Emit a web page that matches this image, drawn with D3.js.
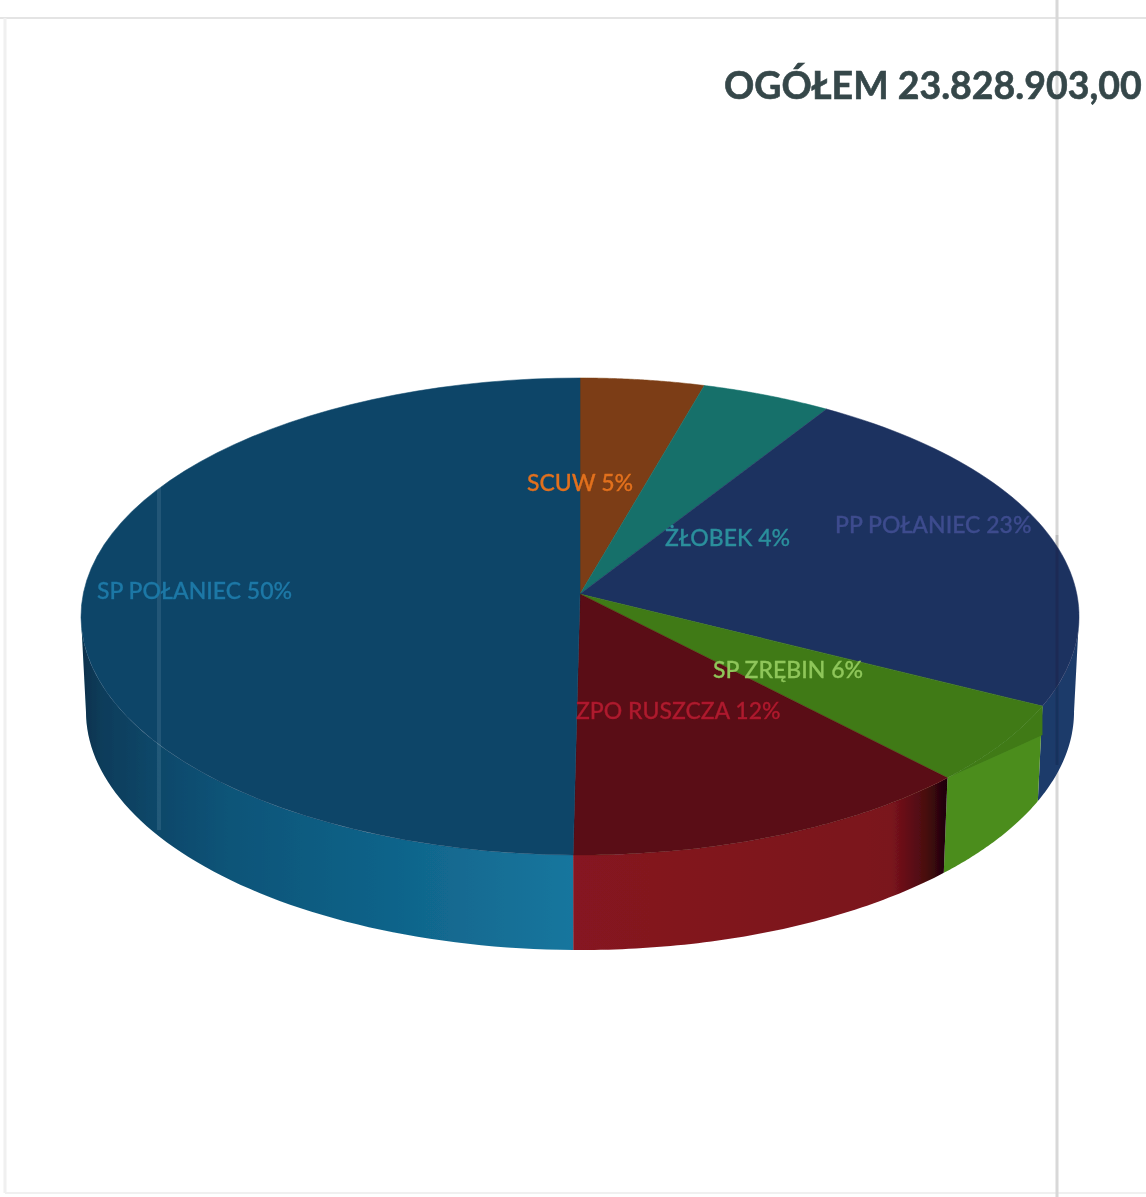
<!DOCTYPE html>
<html lang="pl">
<head>
<meta charset="utf-8">
<title>OGÓŁEM 23.828.903,00</title>
<script src="https://cdn.jsdelivr.net/npm/d3@7"></script>
<style>
  html, body { margin: 0; background: #fff; }
  svg { display: block; }
  text { font-family: Lato, "Open Sans", sans-serif; }
</style>
</head>
<body>
<div id="chart"></div>
<script>
// dane
const title = "OGÓŁEM 23.828.903,00";
const categories = ["SCUW", "ŻŁOBEK", "PP POŁANIEC", "SP ZRĘBIN", "ZPO RUSZCZA", "SP POŁANIEC"];
const percentLabels = [5, 4, 23, 6, 12, 50];
const shares = [4.4, 4.6, 23.5, 5.4, 12.3, 49.8];

// wygląd
const topColors = ["#7b3d12", "#13706b", "#1e3260", "#3f7a18", "#5a0a12", "#0a4568"];
const labelColors = ["#e2701f", "#2b8f9c", "#3d4c8e", "#8fc65a", "#ad1a2e", "#1f78a6"];
const wallStops = [
  [["0%", "#7b3d12"], ["100%", "#7b3d12"]],
  [["0%", "#13706b"], ["100%", "#13706b"]],
  [["0%", "#1d3a6a"], ["100%", "#1d3a6a"]],
  [["0%", "#4c8d1f"], ["100%", "#4c8d1f"]],
  [["0%", "#861620"], ["85%", "#7a131c"], ["94%", "#4a0a10"], ["100%", "#1c0306"]],
  [["0%", "#07304a"], ["4%", "#0a3c5a"], ["15%", "#0b4769"], ["30%", "#0e5478"], ["60%", "#0f6288"], ["100%", "#17769e"]]
];
const labelAt = [[527, 491], [665, 546], [835, 533], [713, 678], [576, 719], [97, 599]];

const W = 1146, H = 1197;
const cx = 580, apexY = 594;       // wierzchołek koła
const k = 0.0943, A = 496.8, B = 236.4; // perspektywa
const depth = 95;
const lip = 29;
// kąty skrajnych punktów elipsy: tylko między nimi widać ścianę
const rightEdge = Math.acos(-k), leftEdge = 2 * Math.PI - rightEdge;

const svg = d3.select("#chart").append("svg")
  .attr("width", W).attr("height", H)
  .attr("viewBox", [0, 0, W, H]);

const defs = svg.append("defs");
defs.append("filter").attr("id", "scan")
  .append("feGaussianBlur").attr("stdDeviation", 0.6);

// kąt (od góry, zgodnie z zegarem) -> punkt na elipsie
function project(a) {
  const x = Math.sin(a), y = -Math.cos(a), d = 1 - k * y;
  return [cx + A * x / d, apexY + B * y / d];
}
function projectLow(a) {
  const p = project(a);
  return [cx + (p[0] - cx) * 0.99, p[1] + depth];
}

const arcs = d3.pie().sort(null).value(d => d)(shares);
const line = d3.line();
const sample = (a0, a1) => d3.range(0, 61).map(i => a0 + (a1 - a0) * i / 60);

const page = svg.append("g").attr("filter", "url(#scan)");

// ślady skanu pod wykresem
page.append("line").attr("x1", 0).attr("x2", W).attr("y1", 18).attr("y2", 18)
  .attr("stroke", "#e4e4e4").attr("stroke-width", 2);
page.append("line").attr("x1", 5).attr("x2", 5).attr("y1", 18).attr("y2", 1193)
  .attr("stroke", "#f0f0f0").attr("stroke-width", 3);
page.append("line").attr("x1", 5).attr("x2", W).attr("y1", 1193).attr("y2", 1193)
  .attr("stroke", "#f0f0f0").attr("stroke-width", 2);
page.append("line").attr("x1", 1057).attr("x2", 1057).attr("y1", 0).attr("y2", H)
  .attr("stroke", "#d8d8d8").attr("stroke-width", 3);

page.append("text")
  .attr("x", 724).attr("y", 99)
  .attr("font-size", 37.5).attr("font-weight", 700)
  .attr("fill", "#36474a")
  .attr("stroke", "#36474a").attr("stroke-width", 0.6)
  .text(title);

// ściany boczne: od tyłu do przodu
const walls = page.append("g");
arcs.forEach((d, i) => {
  const a0 = Math.max(d.startAngle, rightEdge), a1 = Math.min(d.endAngle, leftEdge);
  if (a1 <= a0) return;
  const pts = sample(a0, a1);
  const top = pts.map(project), low = pts.map(projectLow).reverse();
  const gx = d3.extent(top.concat(low), p => p[0]);
  const grad = defs.append("linearGradient")
    .attr("id", "wall" + i)
    .attr("gradientUnits", "userSpaceOnUse")
    .attr("x1", gx[0]).attr("x2", gx[1]).attr("y1", 0).attr("y2", 0);
  wallStops[i].forEach(s => grad.append("stop").attr("offset", s[0]).attr("stop-color", s[1]));
  walls.append("path")
    .attr("d", line(top.concat(low)) + "Z")
    .attr("fill", "url(#wall" + i + ")");
});

// wierzch koła
const tops = page.append("g");
arcs.forEach((d, i) => {
  const pts = sample(d.startAngle, d.endAngle).map(project);
  tops.append("path")
    .attr("d", line([[cx, apexY]].concat(pts)) + "Z")
    .attr("fill", topColors[i])
    .attr("stroke", topColors[i]).attr("stroke-width", 0.5);
});

// SP ZRĘBIN: wierzch schodzi niżej przy krawędzi
const green = arcs[3];
const greenEnd = project(green.startAngle);
tops.append("path")
  .attr("d", line(sample(green.startAngle, green.endAngle).map(project)
    .concat([[greenEnd[0], greenEnd[1] + lip]])) + "Z")
  .attr("fill", topColors[3]);

// pionowe smugi ze skanera
page.append("line").attr("x1", 159).attr("x2", 159).attr("y1", 482).attr("y2", 830)
  .attr("stroke", "#fff").attr("stroke-opacity", 0.1).attr("stroke-width", 4);
page.append("line").attr("x1", 1057).attr("x2", 1057).attr("y1", 535).attr("y2", 765)
  .attr("stroke", "#000").attr("stroke-opacity", 0.12).attr("stroke-width", 3);

// etykiety
page.append("g").selectAll("text")
  .data(categories)
  .join("text")
  .attr("x", (d, i) => labelAt[i][0])
  .attr("y", (d, i) => labelAt[i][1])
  .attr("font-size", 23)
  .attr("font-weight", 500)
  .attr("fill", (d, i) => labelColors[i])
  .attr("stroke", (d, i) => labelColors[i]).attr("stroke-width", 0.3)
  .text((d, i) => d + " " + percentLabels[i] + "%");
</script>
</body>
</html>
